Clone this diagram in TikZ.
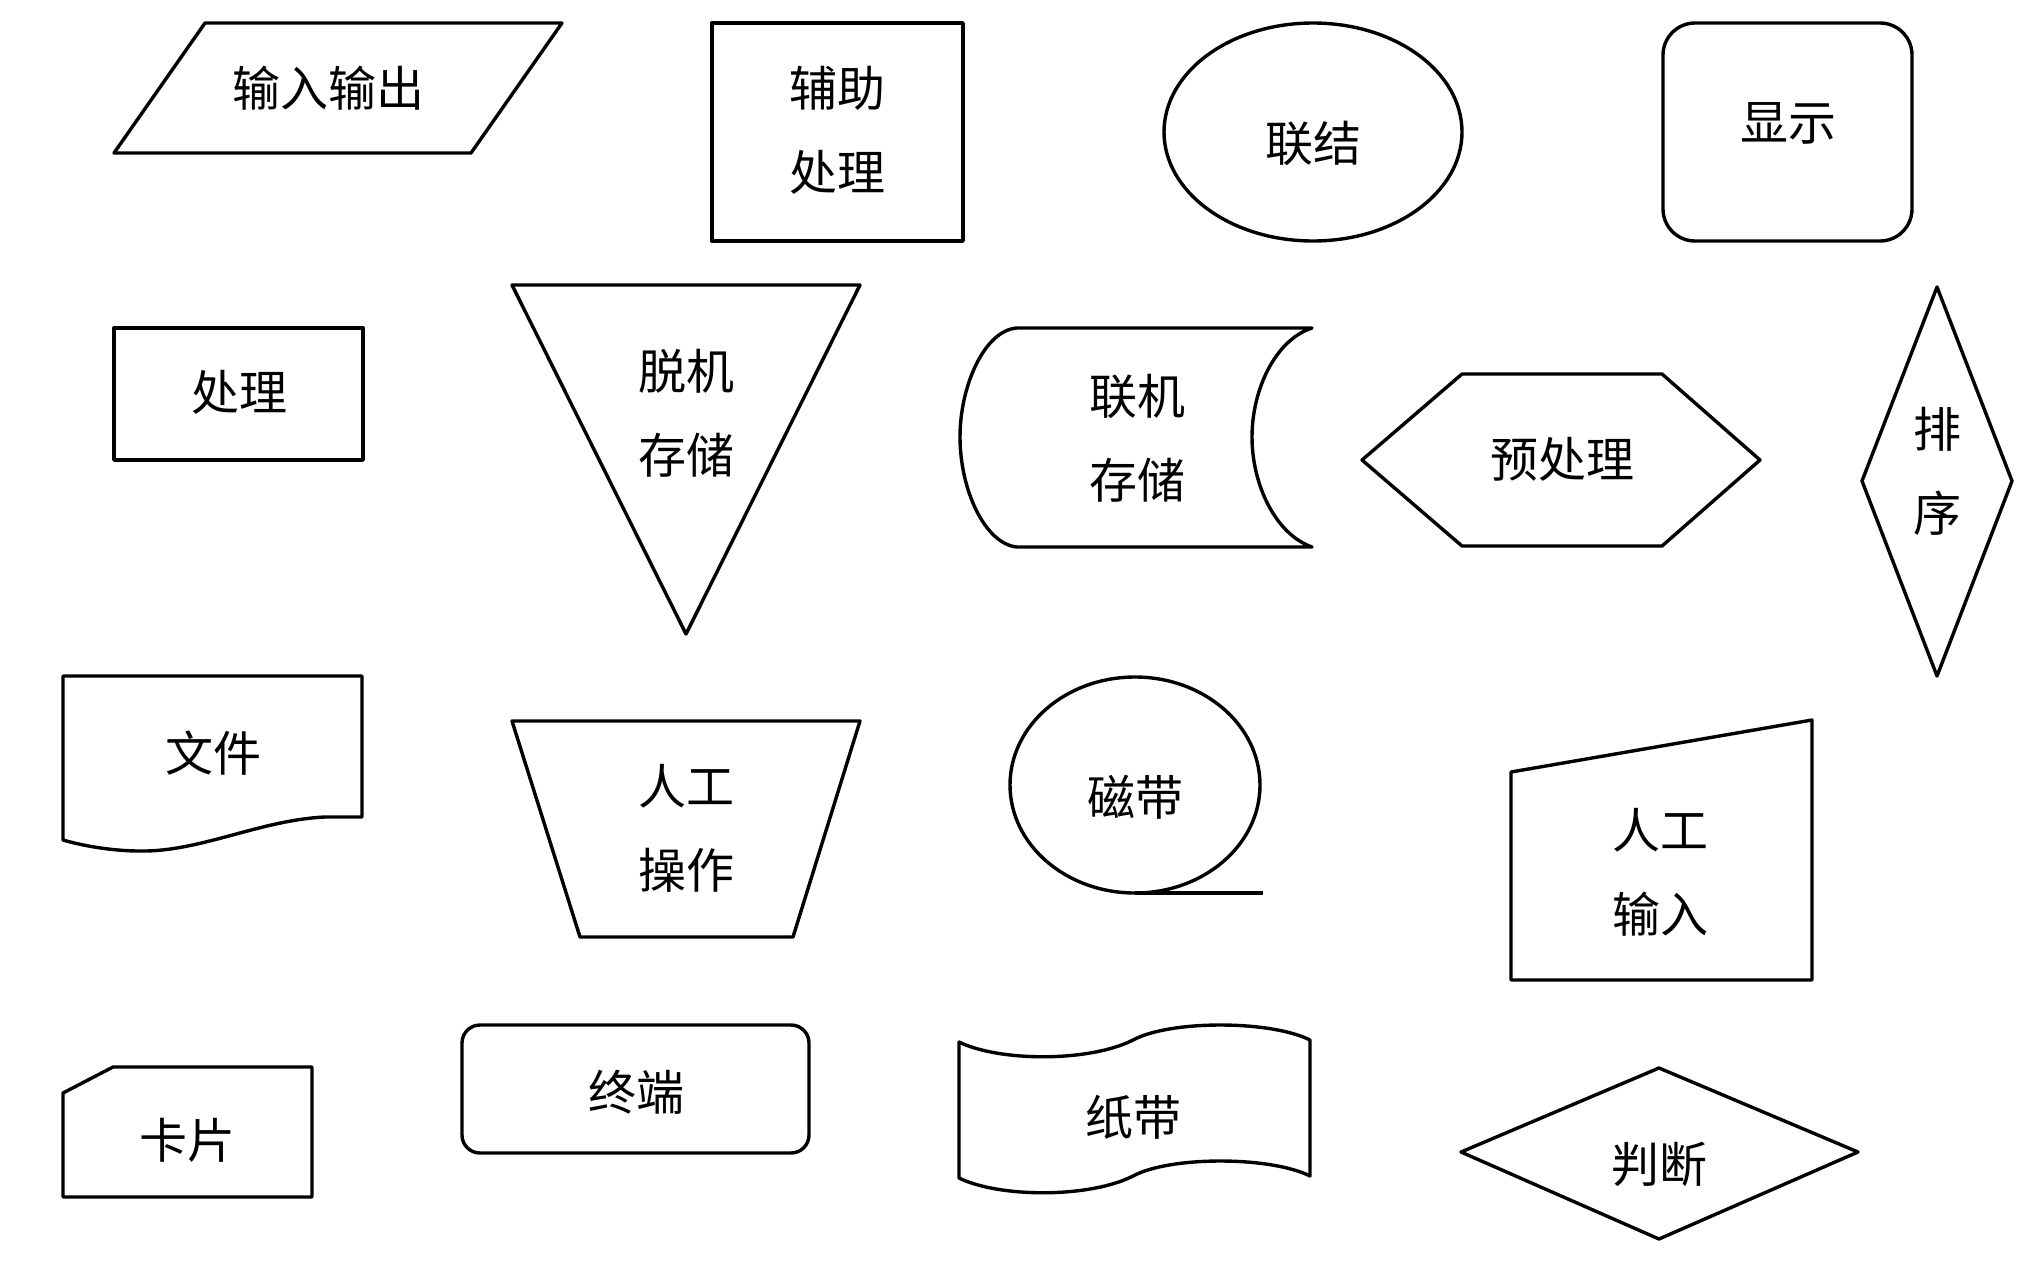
\documentclass[tikz,border=0pt]{standalone}
\usepackage{fontspec}
\newfontfamily\cjk{Noto Sans CJK SC}
\begin{document}
\begin{tikzpicture}[x=0.5pt,y=-0.5pt,
  shp/.style={draw=black,line width=1.7pt,line join=round},
  lbl/.style={font=\cjk\fontsize{24}{42}\selectfont,align=center,inner sep=0pt}]
\useasboundingbox[fill=white] (0,0) rectangle (2034,1275);
% 输入输出
\draw[shp] (205,23) -- (562,23) -- (471,153) -- (114,153) -- cycle;
\node[lbl] (io) at (328,88) {输入输出};
% 辅助处理
\draw[shp] (712,23) rectangle (963,241);
\node[lbl] (aux) at (837,130) {辅助\\处理};
% 联结
\draw[shp] (1313,132) ellipse [x radius=149, y radius=109];
\node[lbl] (conn) at (1313,143) {联结};
% 显示
\draw[shp,rounded corners=16pt] (1663,23) rectangle (1912,241);
\node[lbl] (disp) at (1788,123) {显示};
% 处理
\draw[shp] (114,328) rectangle (363,460);
\node[lbl] (proc) at (239,392) {处理};
% 脱机存储
\draw[shp] (512,285) -- (860,285) -- (686,634) -- cycle;
\node[lbl] (off) at (686,413) {脱机\\存储};
% 联机存储
\draw[shp] (1017,328) -- (1312,328) .. controls (1275,340) and (1252,390) .. (1252,437)
  .. controls (1252,484) and (1275,534) .. (1312,547) -- (1017,547)
  .. controls (985,544) and (960,490) .. (960,437)
  .. controls (960,385) and (985,330) .. (1017,328) -- cycle;
\node[lbl] (on) at (1137,438) {联机\\存储};
% 预处理
\draw[shp] (1362,460) -- (1462,374) -- (1662,374) -- (1760,460) -- (1662,546) -- (1462,546) -- cycle;
\node[lbl] (pre) at (1562,459) {预处理};
% 排序
\draw[shp] (1937,287) -- (2012,481) -- (1937,676) -- (1862,481) -- cycle;
\node[lbl] (sort) at (1937,471) {排\\序};
% 文件
\draw[shp] (63,676) -- (362,676) -- (362,817) -- (325,817)
  .. controls (260,820) and (200,852) .. (140,851)
  .. controls (110,851) and (80,845) .. (63,840) -- cycle;
\node[lbl] (doc) at (213,753) {文件};
% 人工操作
\draw[shp] (512,721) -- (860,721) -- (793,937) -- (580,937) -- cycle;
\node[lbl] (man) at (686,828) {人工\\操作};
% 磁带
\draw[shp] (1135,785) ellipse [x radius=125, y radius=108];
\coordinate (tapeA) at (1135,893);
\coordinate (tapeB) at (1263,893);
\draw[shp] (tapeA) -- (tapeB);
\node[lbl] (tape) at (1135,797) {磁带};
% 人工输入
\draw[shp] (1511,772) -- (1812,720) -- (1812,980) -- (1511,980) -- cycle;
\node[lbl] (minput) at (1660,872) {人工\\输入};
% 卡片
\draw[shp] (63,1093) -- (113,1067) -- (312,1067) -- (312,1197) -- (63,1197) -- cycle;
\node[lbl] (card) at (187,1140) {卡片};
% 终端
\draw[shp,rounded corners=9pt] (462,1025) rectangle (809,1153);
\node[lbl] (term) at (636,1092) {终端};
% 纸带
\draw[shp] (959,1042) .. controls (1000,1062) and (1090,1062) .. (1133,1040)
  .. controls (1170,1020) and (1270,1020) .. (1310,1040) -- (1310,1176)
  .. controls (1270,1156) and (1170,1156) .. (1133,1176)
  .. controls (1090,1198) and (1000,1198) .. (959,1178) -- cycle;
\node[lbl] (ptape) at (1133,1117) {纸带};
% 判断
\draw[shp] (1461,1152) -- (1659,1068) -- (1858,1152) -- (1659,1239) -- cycle;
\node[lbl] (dec) at (1659,1164) {判断};
\end{tikzpicture}
\end{document}
